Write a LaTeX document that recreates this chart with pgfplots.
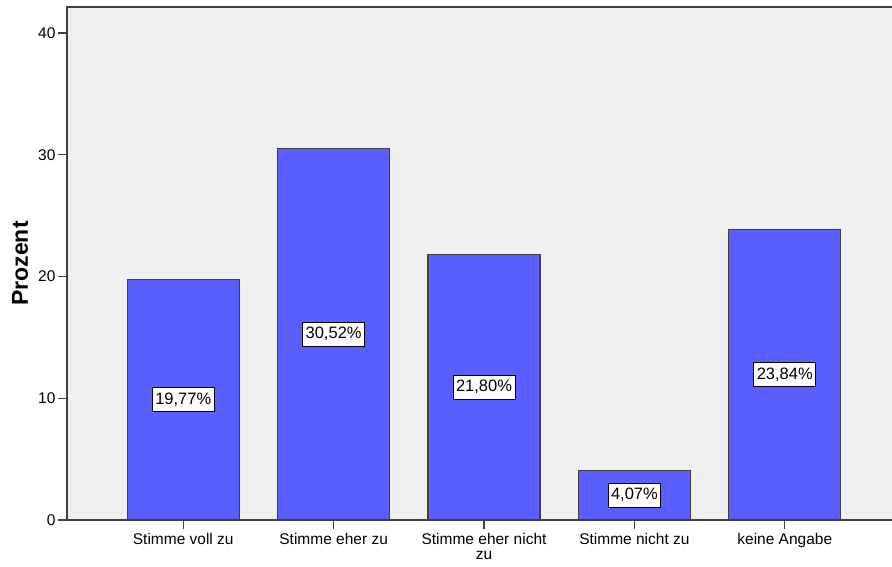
\documentclass[border=0pt]{standalone}
\usepackage{fontspec}
\setmainfont{Liberation Sans}
\usepackage{pgfplots}
\pgfplotsset{compat=1.18}
\usepackage{pgfplotstable}
\definecolor{barfill}{RGB}{90,94,255}
\definecolor{bgcol}{RGB}{240,240,240}
\definecolor{axcol}{RGB}{64,64,64}
\pgfplotstableread{
x v
0 19.77
1 30.52
2 21.80
3 4.07
4 23.84
}\datatab
\begin{document}
\begin{tikzpicture}
\begin{axis}[
  scale only axis,
  width=825pt, height=513pt,
  xmin=-0.773, xmax=4.713,
  ymin=0, ymax=42.13,
  axis background/.style={fill=bgcol},
  axis line style={draw=none},
  xtick={0,1,2,3,4},
  xtick pos=bottom, ytick pos=left,
  xticklabels={Stimme voll zu, Stimme eher zu, {Stimme eher nicht\\zu}, Stimme nicht zu, keine Angabe},
  ytick={0,10,20,30,40},
  tick align=outside,
  major tick length=9pt,
  tick style={axcol, line width=1.4pt},
  x tick label style={font=\fontsize{15.5}{14.5}\selectfont, align=center, yshift=-1pt},
  y tick label style={font=\fontsize{15.5}{18}\selectfont, xshift=1pt},
  /pgf/number format/assume math mode=true,
  ylabel={Prozent},
  every axis y label/.style={at={(rel axis cs:0,0.5)}, xshift=-47pt, rotate=90, anchor=center, font=\fontsize{23}{26}\selectfont\bfseries},
  clip=false,
]
\addplot[ybar, bar width=112pt, fill=barfill, draw=axcol, line width=1.2pt] table[x=x, y=v] {\datatab};
\addplot[draw=none, mark=none, nodes near coords={\pgfmathprintnumber[fixed,fixed zerofill,precision=2,use comma,assume math mode=true]{\pgfplotspointmeta}\%},
  point meta=\thisrow{v},
  nodes near coords align=center,
  every node near coord/.append style={anchor=center, fill=white, draw=black, line width=0.9pt, font=\fontsize{16.5}{19}\selectfont, inner xsep=3pt, inner ysep=3pt, minimum height=24pt}
] table[x=x, y expr=\thisrow{v}/2] {\datatab};
\draw[axcol, line width=1.6pt] (rel axis cs:0,0) -- (rel axis cs:0,1) -- (rel axis cs:1,1);
\draw[axcol, line width=1.6pt] (rel axis cs:0,0) -- (rel axis cs:1,0);
\end{axis}
\pgfresetboundingbox
\path[use as bounding box] (-67pt,-47pt) rectangle (825pt,520pt);
\end{tikzpicture}
\end{document}
